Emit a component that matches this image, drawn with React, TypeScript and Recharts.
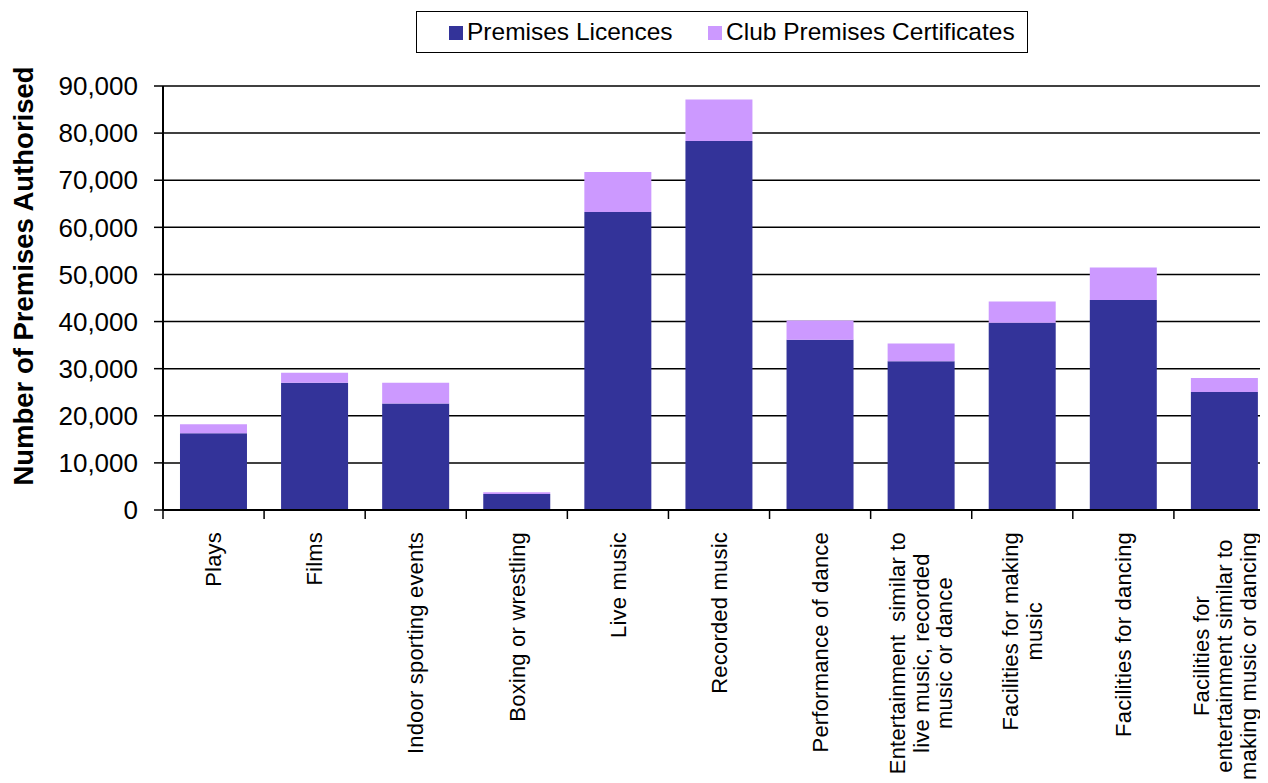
import React from 'react';
import { BarChart, Bar, XAxis, YAxis, CartesianGrid, Legend } from 'recharts';

const categories = [
  'Plays',
  'Films',
  'Indoor sporting events',
  'Boxing or wrestling',
  'Live music',
  'Recorded music',
  'Performance of dance',
  'Entertainment  similar to\nlive music, recorded\nmusic or dance',
  'Facilities for making\nmusic',
  'Facilities for dancing',
  'Facilities for\nentertainment similar to\nmaking music or dancing',
];

const premisesLicences = [16300, 27000, 22600, 3400, 63250, 78300, 36150, 31600, 39750, 44600, 25050];
const clubPremisesCertificates = [1900, 2150, 4400, 350, 8500, 8850, 4050, 3750, 4500, 6900, 2950];

const yTicks = [0, 10000, 20000, 30000, 40000, 50000, 60000, 70000, 80000, 90000];

const seriesNames = ['Premises Licences', 'Club Premises Certificates'];
const seriesColors = ['#333399', '#CC99FF'];

const data = categories.map((name, i) => ({
  name,
  pl: premisesLicences[i],
  cpc: clubPremisesCertificates[i],
}));

const FONT = '"Liberation Sans", Arial, Helvetica, sans-serif';
const CHART_W = 1270;
const CHART_H = 775;
const MARGIN = { top: 0, right: 3, bottom: 0, left: 0 };
const Y_AXIS_W = 155;
const X_FONT = 22;
const X_LS = 0.2;
const X_LINE_H = 23.5;

let measureCtx: CanvasRenderingContext2D | null = null;
function measure(text: string, font: string): number {
  if (!measureCtx) {
    const c = document.createElement('canvas');
    measureCtx = c.getContext('2d');
  }
  if (!measureCtx) return text.length * X_FONT * 0.5;
  measureCtx.font = font;
  return measureCtx.measureText(text).width + text.length * X_LS;
}

const XTick = (props: any) => {
  const { x, y, payload } = props;
  const band = (CHART_W - MARGIN.left - MARGIN.right - Y_AXIS_W) / categories.length;
  const half = typeof payload.offset === 'number' && payload.offset > 0 ? payload.offset : band / 2;
  const lines = String(payload.value).split('\n');
  const font = `${X_FONT}px "Liberation Sans", Arial, sans-serif`;
  const maxW = Math.max(...lines.map((l) => measure(l, font)));
  const n = lines.length;
  return (
    <g>
      <line x1={x - half} x2={x - half} y1={y} y2={y + 9} stroke="#000" strokeWidth={1.5} />
      <text
        transform={`translate(${x},${y + 22 + maxW / 2}) rotate(-90)`}
        textAnchor="middle"
        fontSize={X_FONT}
        fill="#000"
        fontFamily={FONT}
        letterSpacing={X_LS}
        style={{ whiteSpace: 'pre' }}
      >
        {lines.map((l, i) => (
          <tspan key={i} x={0} y={(i - (n - 1) / 2) * X_LINE_H} dy="0.35em">
            {l}
          </tspan>
        ))}
      </text>
    </g>
  );
};

const YTitle = (props: any) => {
  const vb = props.viewBox || { x: 0, y: 0, width: 0, height: 0 };
  const cx = vb.x + 15;
  const cy = vb.y + vb.height / 2 - 22;
  return (
    <text
      x={cx}
      y={cy}
      transform={`rotate(-90, ${cx}, ${cy})`}
      textAnchor="middle"
      dominantBaseline="central"
      fontSize={27.5}
      fontWeight="bold"
      fill="#000"
      fontFamily={FONT}
    >
      Number of Premises Authorised
    </text>
  );
};

const LegendBox = () => (
  <div style={{ position: 'relative', height: 78, width: CHART_W }}>
    <div
      style={{
        position: 'absolute',
        left: 408,
        top: 3,
        width: 612,
        height: 42,
        boxSizing: 'border-box',
        border: '1.5px solid #000',
        background: '#fff',
        fontFamily: FONT,
        fontSize: 24.5,
        color: '#000',
      }}
    >
      {seriesNames.map((name, i) => (
        <React.Fragment key={name}>
          <div
            style={{
              position: 'absolute',
              left: i === 0 ? 32 : 291,
              top: 13.5,
              width: 14,
              height: 14,
              background: seriesColors[i],
            }}
          />
          <div
            style={{
              position: 'absolute',
              left: i === 0 ? 50 : 309,
              top: 8,
              lineHeight: '24px',
              whiteSpace: 'nowrap',
            }}
          >
            {name}
          </div>
        </React.Fragment>
      ))}
    </div>
  </div>
);

export default function App() {
  return (
    <div style={{ width: 1260, height: CHART_H, overflow: 'hidden', fontFamily: FONT, background: '#fff' }}>
      <BarChart
        width={CHART_W}
        height={CHART_H}
        data={data}
        margin={MARGIN}
        barCategoryGap="16.8%"
      >
        <Legend verticalAlign="top" align="left" content={LegendBox} wrapperStyle={{ left: 0, top: 0 }} />
        <CartesianGrid vertical={false} stroke="#000" strokeWidth={1.5} />
        <XAxis
          dataKey="name"
          interval={0}
          height={273}
          tickLine={false}
          tickSize={0}
          tickMargin={0}
          axisLine={{ stroke: '#000', strokeWidth: 2 }}
          tick={<XTick />}
        />
        <YAxis
          width={Y_AXIS_W}
          domain={[0, 90000]}
          ticks={yTicks}
          interval={0}
          tickSize={9}
          tickMargin={16}
          tickFormatter={(v: number) => v.toLocaleString('en-US')}
          tick={{ fontSize: 26, fill: '#000', fontFamily: FONT }}
          axisLine={{ stroke: '#000', strokeWidth: 2 }}
          tickLine={{ stroke: '#000', strokeWidth: 1.5 }}
          label={(p: any) => <YTitle {...p} />}
        />
        <Bar dataKey="pl" name={seriesNames[0]} stackId="a" fill={seriesColors[0]} isAnimationActive={false} />
        <Bar dataKey="cpc" name={seriesNames[1]} stackId="a" fill={seriesColors[1]} isAnimationActive={false} />
      </BarChart>
    </div>
  );
}
